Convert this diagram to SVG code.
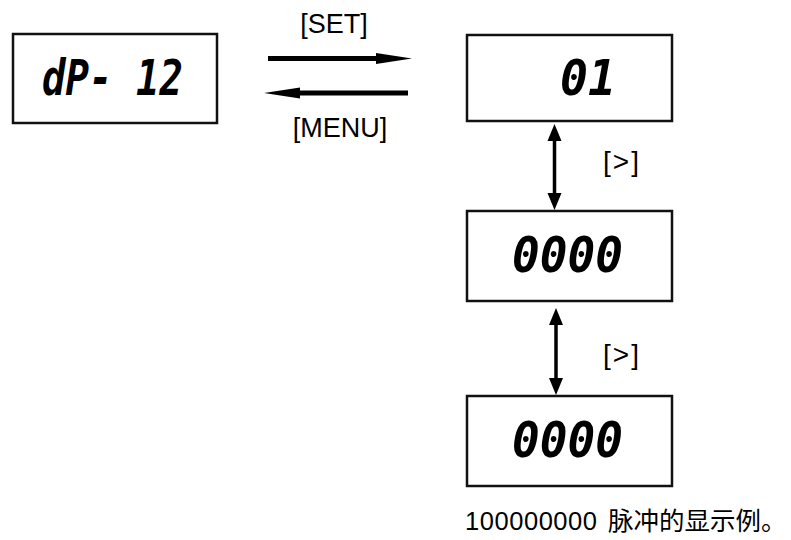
<svg xmlns="http://www.w3.org/2000/svg" width="791" height="540" viewBox="0 0 791 540">
<style>
.box{fill:#fff;stroke:#111;stroke-width:2.5}
.seg{font-family:"DejaVu Sans Mono","Liberation Mono",monospace;font-weight:bold;font-style:italic;font-size:50px;fill:#000}
.lbl{font-family:"Liberation Sans",Arial,sans-serif;font-size:27px;fill:#000}
.key{font-family:"Liberation Sans",Arial,sans-serif;font-size:28px;fill:#000;letter-spacing:2px}
.shaft{stroke:#000;fill:none}
</style>
<rect width="791" height="540" fill="#fff"/>
<g id="node-dp12">
<rect class="box" x="13" y="34" width="204" height="89"/>
<text class="seg" x="42" y="95" textLength="141" lengthAdjust="spacingAndGlyphs">dP- 12</text>
</g>
<g id="node-01">
<rect class="box" x="467" y="35" width="205" height="86"/>
<text class="seg" x="560" y="95" textLength="56" lengthAdjust="spacingAndGlyphs">01</text>
</g>
<g id="node-0000a">
<rect class="box" x="467" y="211" width="205" height="90"/>
<text class="seg" x="512" y="272" textLength="111" lengthAdjust="spacingAndGlyphs">0000</text>
</g>
<g id="node-0000b">
<rect class="box" x="467" y="396" width="205" height="90"/>
<text class="seg" x="512" y="457" textLength="111" lengthAdjust="spacingAndGlyphs">0000</text>
</g>
<g id="connectors">
<line class="shaft" x1="268" y1="58.5" x2="380" y2="58.5" stroke-width="5"/>
<polygon points="376,53 412,58.5 376,64" fill="#000"/>
<line class="shaft" x1="296" y1="93" x2="408" y2="93" stroke-width="5"/>
<polygon points="300,87.5 264,93 300,98.5" fill="#000"/>
<line class="shaft" x1="554.5" y1="138" x2="554.5" y2="196" stroke-width="3.5"/>
<polygon points="547.5,141 554.5,124 561.5,141" fill="#000"/>
<polygon points="547.5,193 554.5,210 561.5,193" fill="#000"/>
<line class="shaft" x1="556" y1="322" x2="556" y2="381" stroke-width="3.5"/>
<polygon points="549,325 556,308 563,325" fill="#000"/>
<polygon points="549,378 556,395 563,378" fill="#000"/>
<text class="lbl" x="334" y="33" text-anchor="middle">[SET]</text>
<text class="lbl" x="340" y="137" text-anchor="middle">[MENU]</text>
<text class="key" x="603" y="171">[&gt;]</text>
<text class="key" x="603" y="364">[&gt;]</text>
</g>
<text x="465" y="530" font-family="'Liberation Sans','Noto Sans CJK SC',sans-serif" font-size="25.5" fill="#000"><tspan textLength="132">100000000</tspan><tspan x="608" font-family="'Noto Sans CJK SC',sans-serif" font-size="25.5">脉冲的显示例。</tspan></text>
</svg>
